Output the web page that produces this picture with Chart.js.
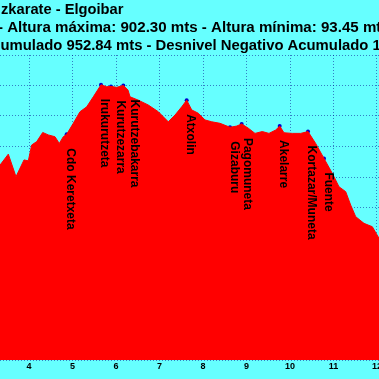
<!DOCTYPE html>
<html>
<head>
<meta charset="utf-8">
<script src="https://cdn.jsdelivr.net/npm/chart.js@4/dist/chart.umd.min.js"></script>
<style>
html,body{margin:0;padding:0;background:#66ffff;overflow:hidden;}
#c{display:block;}
</style>
</head>
<body>
<canvas id="c" width="379" height="379"></canvas>
<script>
// ---- data ----
const titleLines = [
  "zkarate - Elgoibar",
  "- Altura máxima: 902.30 mts - Altura mínima: 93.45 mts",
  "umulado 952.84 mts - Desnivel Negativo Acumulado 1"
];
const distKm = [3.333,3.524,3.701,3.885,3.984,4.062,4.177,4.315,4.443,4.597,4.696,4.788,4.866,5.018,5.172,5.326,5.478,5.655,5.786,5.885,6.016,6.168,6.276,6.322,6.512,6.742,6.972,7.202,7.356,7.510,7.625,7.740,7.892,8.046,8.200,8.391,8.621,8.774,8.889,9.041,9.195,9.363,9.517,9.671,9.763,9.862,10.053,10.246,10.414,10.590,10.781,10.972,11.126,11.280,11.395,11.510,11.701,11.892,12.046];
const elevM = [639,675,601,656,653,705,716,746,738,732,710,732,740,776,814,830,863,902.3,896,897,894,900,885,863,852,836,814,781,803,830,852,820,809,787,781,776,763,767,774,760,743,749,743,754,767,745,743,743,749,710,661,612,568,552,508,470,448,437,399];
const wpNames = ["Cdo Keretxeta","Irukurutzeta","Kurutzezarra","Kurutzebakarra","Atxolin","Gizaburu","Pagomuneta","Akelarre","Kortazar/Muneta","Fuente"];
const wpKm = [4.866,5.655,5.885,6.168,7.625,8.621,8.889,9.763,10.414,10.781];
const wpElev = [740,902.3,897,900,852,763,774,767,749,661];
const xTicks = [4,5,6,7,8,9,10,11,12];
const xMin = 3.333, xMax = 12.046, yMin = 0, yMax = 1000, yStep = 100;

// ---- styles ----
const labelDx = [4,3.5,9,11,3.5,4,6,4,3,4.5];
const BG = '#66ffff';
const GRID = 'rgba(0,0,140,0.5)';

const bgPlugin = {
  id:'bg',
  beforeDraw(chart){
    const ctx = chart.ctx;
    ctx.save(); ctx.fillStyle = BG; ctx.fillRect(0,0,chart.width,chart.height); ctx.restore();
  }
};
const titlePlugin = {
  id:'titleLines',
  afterDraw(chart){
    const ctx = chart.ctx;
    const xs = [1,-2,0.5];
    const sizes = [14.7,15.1,14.85];
    ctx.save();
    ctx.fillStyle = '#000';
    ctx.textBaseline = 'middle';
    ctx.textAlign = 'left';
    titleLines.forEach((t,i)=>{
      ctx.font = 'bold ' + sizes[i] + 'px "Liberation Sans", Arial, sans-serif';
      ctx.fillText(t, xs[i], 10 + i*18);
    });
    ctx.restore();
  }
};
const wpLabelPlugin = {
  id:'wpLabels',
  afterDraw(chart){
    const ctx = chart.ctx;
    const xs = chart.scales.x, ys = chart.scales.y;
    ctx.save();
    ctx.fillStyle = '#000';
    ctx.font = 'bold 12px "Liberation Sans", Arial, sans-serif';
    ctx.textBaseline = 'middle';
    ctx.textAlign = 'left';
    wpNames.forEach((n,i)=>{
      const px = xs.getPixelForValue(wpKm[i]) + labelDx[i];
      const py = ys.getPixelForValue(wpElev[i]) + 14;
      ctx.save();
      ctx.translate(px, py);
      ctx.rotate(Math.PI/2);
      ctx.fillText(n, 0, 0);
      ctx.restore();
    });
    ctx.restore();
  }
};

new Chart(document.getElementById('c'), {
  type:'line',
  data:{
    datasets:[
      {
        data: distKm.map((d,i)=>({x:d,y:elevM[i]})),
        borderColor:'#ff0000', backgroundColor:'#ff0000',
        borderWidth:1, pointRadius:0, fill:'origin', tension:0
      },
      {
        data: wpKm.map((d,i)=>({x:d,y:wpElev[i]})),
        showLine:false, pointRadius:2, pointBackgroundColor:'#0000cc',
        pointBorderColor:'#0000cc', borderWidth:0, fill:false
      }
    ]
  },
  options:{
    responsive:false, animation:false,
    layout:{autoPadding:false, padding:{top:55,left:0,right:0,bottom:0}},
    plugins:{legend:{display:false}, title:{display:false}, tooltip:{enabled:false}},
    scales:{
      x:{
        type:'linear', min:xMin, max:xMax, z:1,
        afterBuildTicks(s){ s.ticks = xTicks.map(v=>({value:v})); },
        afterFit(s){ s.height = 19; s.paddingLeft = 0; s.paddingRight = 0; },
        grid:{color:GRID, lineWidth:1, drawTicks:false},
        border:{display:false, dash:[1,2]},
        ticks:{color:'#000', padding:1, maxRotation:0, autoSkip:false,
               font:{family:'"Liberation Sans", Arial, sans-serif', size:9, weight:'bold'}}
      },
      y:{
        min:yMin, max:yMax, z:1,
        afterFit(s){ s.width = 0; s.paddingTop = 0; s.paddingBottom = 0; },
        ticks:{display:false, stepSize:yStep},
        grid:{color:GRID, lineWidth:1, drawTicks:false},
        border:{display:false, dash:[1,2]}
      }
    }
  },
  plugins:[bgPlugin, titlePlugin, wpLabelPlugin]
});
</script>
</body>
</html>
